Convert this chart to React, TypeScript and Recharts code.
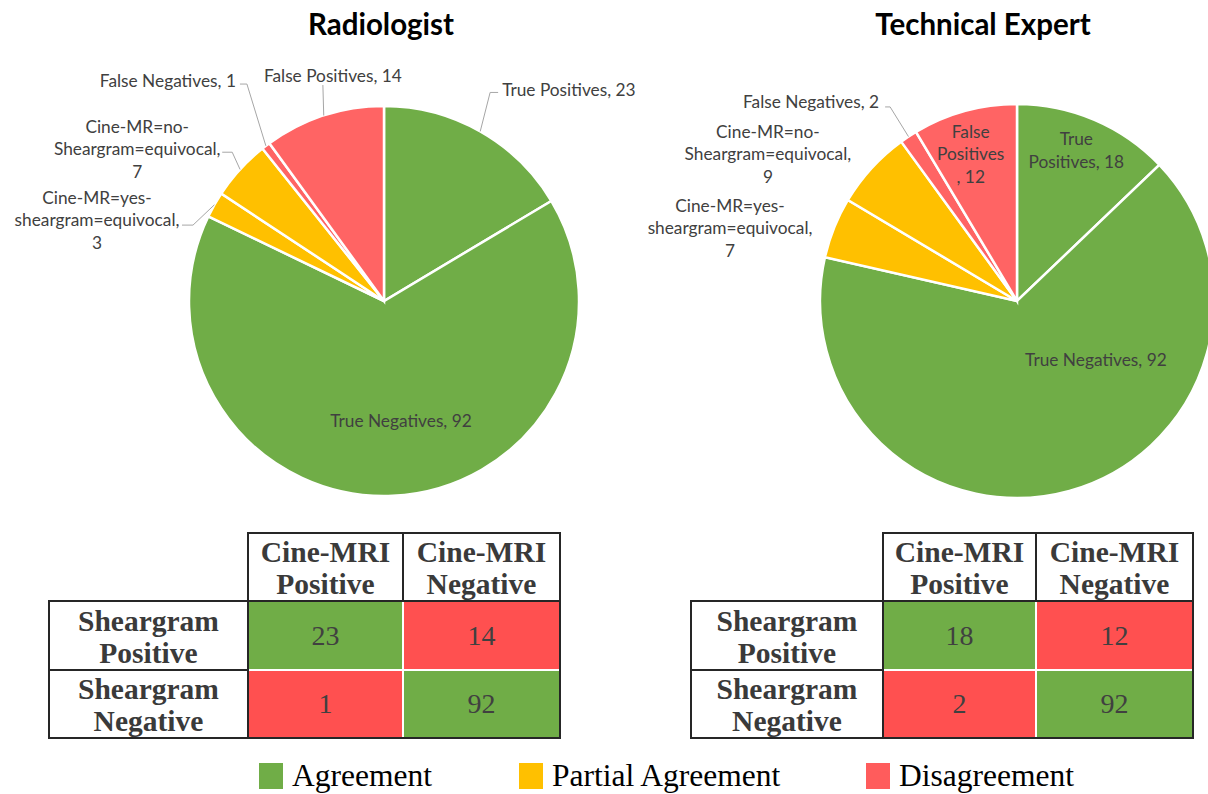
import React from 'react';
import { PieChart, Pie, Cell } from 'recharts';

// ---------------------------------------------------------------------------
// Data
// ---------------------------------------------------------------------------

const sliceNames = [
  'True Positives',
  'True Negatives',
  'Cine-MR=yes-sheargram=equivocal',
  'Cine-MR=no-Sheargram=equivocal',
  'False Negatives',
  'False Positives',
];
const sliceGroups = ['agree', 'agree', 'partial', 'partial', 'disagree', 'disagree'];

const radiologistValues = [23, 92, 3, 7, 1, 14];
const expertValues = [18, 92, 7, 9, 2, 12];

const colHeaders = [['Cine-MRI', 'Positive'], ['Cine-MRI', 'Negative']];
const rowHeaders = [['Sheargram', 'Positive'], ['Sheargram', 'Negative']];
const radiologistMatrix = [[23, 14], [1, 92]];
const expertMatrix = [[18, 12], [2, 92]];

const legendItems = [
  { key: 'agree', label: 'Agreement' },
  { key: 'partial', label: 'Partial Agreement' },
  { key: 'disagree', label: 'Disagreement' },
];

// ---------------------------------------------------------------------------
// Styles
// ---------------------------------------------------------------------------

const pieColors: Record<string, string> = {
  agree: '#70AD47',
  partial: '#FFC000',
  disagree: '#FF6464',
};
const tableColors = { agree: '#70AD47', disagree: '#FF5050' };
const legendColors: Record<string, string> = {
  agree: '#70AD47',
  partial: '#FFC000',
  disagree: '#FF5C5C',
};

const labelFont = 'Lato, "Open Sans", sans-serif';
const serif = '"Liberation Serif", "Times New Roman", serif';
const textGrey = '#404040';

// label placement per slice (polar, relative to the pie's own centre/radius)
type Placement = {
  kind: 'in' | 'out' | 'free';
  r: number;
  shift: number;
  h?: number;
  tx?: number;
  ty?: number;
  anchor?: 'start' | 'middle' | 'end';
  lines?: (n: string, v: number) => string[];
};

const splitEquivocal = (n: string, v: number) => {
  const i = n.indexOf('-', 8);
  return [n.slice(0, i + 1), n.slice(i + 1) + ',', String(v)];
};

const radiologistLayout: Placement[] = [
  { kind: 'out', r: 1.2, shift: -2.6, h: 8, tx: 12, ty: -2, anchor: 'start' },
  { kind: 'in', r: 0.62, shift: -5.5 },
  { kind: 'out', r: 1.054, shift: -7.9, h: -11, tx: -96, ty: -5, lines: splitEquivocal },
  { kind: 'out', r: 1.09, shift: 2.0, h: -10, tx: -95, ty: -3, lines: splitEquivocal },
  { kind: 'out', r: 1.316, shift: 5.0, h: -7, tx: -11, ty: -3, anchor: 'end' },
  { kind: 'out', r: 1.151, shift: 2.2, h: 0, tx: 10, ty: -9 },
];

const expertLayout: Placement[] = [
  { kind: 'in', r: 0.82, shift: -1.6, lines: (n, v) => ['True', `Positives, ${v}`] },
  { kind: 'in', r: 0.5, shift: -37.8 },
  { kind: 'free', r: 1.503, shift: -7.6, lines: splitEquivocal },
  { kind: 'free', r: 1.468, shift: -11.9, lines: splitEquivocal },
  { kind: 'out', r: 1.177, shift: 0.25, h: -5, tx: -11, ty: -5, anchor: 'end' },
  { kind: 'in', r: 0.78, shift: -2.1, lines: (n, v) => ['False', 'Positives', `, ${v}`] },
];

const RAD = Math.PI / 180;
// theta: degrees clockwise from 12 o'clock
const polar = (cx: number, cy: number, d: number, theta: number) => ({
  x: cx + d * Math.sin(theta * RAD),
  y: cy - d * Math.cos(theta * RAD),
});

const makeLabel = (layout: Placement[], values: number[]) => (props: any) => {
  const { cx, cy, midAngle, outerRadius, index } = props;
  const p = layout[index];
  const theta = 90 - midAngle;
  const lines = p.lines
    ? p.lines(sliceNames[index], values[index])
    : [`${sliceNames[index]}, ${values[index]}`];
  const LH = 22.5;
  let tx = 0;
  let ty = 0;
  let leader = null;
  if (p.kind === 'out') {
    const edge = polar(cx, cy, outerRadius, theta);
    const elbow = polar(cx, cy, outerRadius * p.r, theta + p.shift);
    const end = elbow.x + (p.h ?? 0);
    leader = (
      <polyline
        points={`${edge.x},${edge.y} ${elbow.x},${elbow.y} ${end},${elbow.y}`}
        fill="none"
        stroke="#A6A6A6"
        strokeWidth={1}
      />
    );
    tx = elbow.x + (p.tx ?? 0);
    ty = elbow.y + (p.ty ?? 0);
  } else {
    const c = polar(cx, cy, outerRadius * p.r, theta + p.shift);
    tx = c.x;
    ty = c.y;
  }
  const y0 = ty - ((lines.length - 1) * LH) / 2;
  return (
    <g key={`lbl-${index}`}>
      {leader}
      <text
        x={tx}
        textAnchor={p.anchor ?? 'middle'}
        fontFamily={labelFont}
        fontSize={17.3}
        fill={textGrey}
      >
        {lines.map((t, i) => (
          <tspan key={i} x={tx} y={y0 + i * LH + 6}>
            {t}
          </tspan>
        ))}
      </text>
    </g>
  );
};

const toData = (values: number[]) =>
  sliceNames.map((name, i) => ({ name, value: values[i], group: sliceGroups[i] }));

// ---------------------------------------------------------------------------
// Table
// ---------------------------------------------------------------------------

function Box({ x, y, w, h, bg, border, children, bold, lines }: any) {
  return (
    <div
      style={{
        position: 'absolute',
        left: x,
        top: y,
        width: w,
        height: h,
        boxSizing: 'border-box',
        background: bg ?? 'transparent',
        border: border,
        display: 'flex',
        flexDirection: 'column',
        alignItems: 'center',
        justifyContent: 'center',
        fontFamily: serif,
        fontSize: bold ? 29.5 : 28,
        fontWeight: bold ? 700 : 400,
        lineHeight: '32px',
        color: bold ? '#3a3a3a' : textGrey,
        paddingTop: bold ? 2 : 0,
      }}
    >
      {lines ? lines.map((l: string, i: number) => <div key={i}>{l}</div>) : children}
    </div>
  );
}

function Matrix({ xs, matrix }: { xs: number[]; matrix: number[][] }) {
  const ys = [533, 601, 670, 738];
  const dark = '2px solid #262626';
  const cells: React.ReactNode[] = [];
  colHeaders.forEach((hdr, c) => {
    cells.push(
      <Box key={`h${c}`} x={xs[c + 1] - 1} y={ys[0] - 1} w={xs[c + 2] - xs[c + 1] + 2} h={ys[1] - ys[0] + 2} border={dark} bold lines={hdr} />
    );
  });
  rowHeaders.forEach((hdr, r) => {
    cells.push(
      <Box key={`r${r}`} x={xs[0] - 1} y={ys[r + 1] - 1} w={xs[1] - xs[0] + 2} h={ys[r + 2] - ys[r + 1] + 2} border={dark} bold lines={hdr} />
    );
    matrix[r].forEach((v, c) => {
      cells.push(
        <Box
          key={`c${r}${c}`}
          x={xs[c + 1]}
          y={ys[r + 1]}
          w={xs[c + 2] - xs[c + 1]}
          h={ys[r + 2] - ys[r + 1]}
          bg={r === c ? tableColors.agree : tableColors.disagree}
          border="1px solid #fff"
        >
          {v}
        </Box>
      );
    });
  });
  cells.push(
    <Box key="outline" x={xs[1] - 1} y={ys[1] - 1} w={xs[3] - xs[1] + 2} h={ys[3] - ys[1] + 2} border={dark} />
  );
  return <>{cells}</>;
}

// ---------------------------------------------------------------------------
// App
// ---------------------------------------------------------------------------

export default function App() {
  const radiologistData = toData(radiologistValues);
  const expertData = toData(expertValues);

  return (
    <div
      style={{
        position: 'absolute',
        left: 0,
        top: 0,
        width: 1208,
        height: 794,
        background: '#fff',
        overflow: 'hidden',
      }}
    >
      <div style={{ position: 'absolute', left: 0, top: 0 }}>
        <PieChart width={1208} height={520} margin={{ top: 0, right: 0, bottom: 0, left: 0 }}>
          <Pie
            data={radiologistData}
            dataKey="value"
            nameKey="name"
            cx={384}
            cy={301}
            outerRadius={195}
            startAngle={90}
            endAngle={-270}
            stroke="#fff"
            strokeWidth={2.5}
            labelLine={false}
            label={makeLabel(radiologistLayout, radiologistValues)}
            isAnimationActive={false}
          >
            {radiologistData.map((d, i) => (
              <Cell key={i} fill={pieColors[d.group]} />
            ))}
          </Pie>
          <Pie
            data={expertData}
            dataKey="value"
            nameKey="name"
            cx={1017}
            cy={301}
            outerRadius={197}
            startAngle={90}
            endAngle={-270}
            stroke="#fff"
            strokeWidth={2.5}
            labelLine={false}
            label={makeLabel(expertLayout, expertValues)}
            isAnimationActive={false}
          >
            {expertData.map((d, i) => (
              <Cell key={i} fill={pieColors[d.group]} />
            ))}
          </Pie>
        </PieChart>
      </div>

      {[
        { t: 'Radiologist', x: 381 },
        { t: 'Technical Expert', x: 983 },
      ].map((h) => (
        <div
          key={h.t}
          style={{
            position: 'absolute',
            left: h.x - 200,
            width: 400,
            top: 5,
            textAlign: 'center',
            fontFamily: labelFont,
            fontWeight: 700,
            fontSize: 29.5,
            lineHeight: '38px',
            color: '#000',
          }}
        >
          {h.t}
        </div>
      ))}

      <Matrix xs={[49, 248, 403, 560]} matrix={radiologistMatrix} />
      <Matrix xs={[691, 883, 1036, 1193]} matrix={expertMatrix} />

      {legendItems.map((item, i) => {
        const left = [259, 519, 866][i];
        return (
          <div key={item.key} style={{ position: 'absolute', left, top: 757, display: 'flex', alignItems: 'center' }}>
            <div style={{ width: 24, height: 26, background: legendColors[item.key], marginRight: 9 }} />
            <span style={{ fontFamily: serif, fontSize: 31.5, lineHeight: '38px', color: '#000' }}>{item.label}</span>
          </div>
        );
      })}
    </div>
  );
}
